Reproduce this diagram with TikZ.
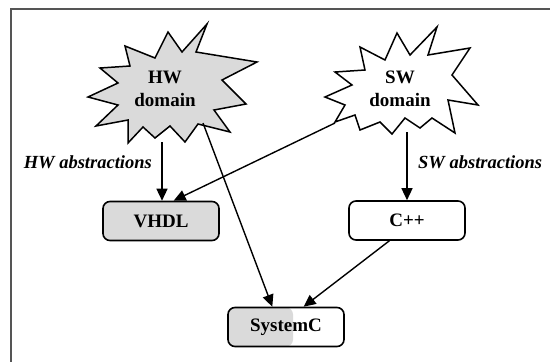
\documentclass[tikz,border=0pt]{standalone}
\usepackage{fontspec}
\setmainfont{Liberation Serif}
\usetikzlibrary{arrows.meta}
\definecolor{lgray}{HTML}{DADADA}
\definecolor{frame}{HTML}{555555}
\begin{document}
\begin{tikzpicture}[x=1pt,y=-1pt,
  burst/.style={draw=black,line width=1.5pt,line join=miter},
  lbl/.style={font=\fontsize{19}{23}\selectfont\bfseries,align=center,inner sep=0pt},
  albl/.style={font=\fontsize{18.5}{23}\selectfont\bfseries\itshape,inner sep=0pt},
  box/.style={draw=black,line width=1.6pt,rounded corners=7pt,minimum width=116pt,minimum height=39pt,inner sep=0pt,font=\fontsize{19}{23}\selectfont\bfseries},
  conn/.style={line width=1.4pt,-{Triangle[length=12pt,width=11pt]}}]
\useasboundingbox (0,0) rectangle (550,362);
\draw[frame,line width=1.6pt] (11,362) -- (11,9) -- (550,9);
% HW star
\filldraw[burst,fill=lgray] (207,24) -- (196,52) -- (257,62) -- (222,80) -- (246,104) -- (214,110) -- (230,132) -- (198,124) -- (185,142) -- (170,126) -- (155,138) -- (143,127) -- (128,143) -- (128,120) -- (96,126) -- (118,105) -- (88,97) -- (118,83) -- (100,68) -- (130,66) -- (125,46) -- (155,58) -- (168,32) -- (182,52) -- cycle;
\node[lbl] (hw) at (165,89) {HW\\domain};
% SW star
\filldraw[burst,fill=white] (437,27) -- (428,55) -- (470,48) -- (452,75) -- (478,105) -- (448,100) -- (455,133) -- (432,118) -- (420,128) -- (405,118) -- (392,134) -- (380,122) -- (360,130) -- (355,115) -- (335,122) -- (345,105) -- (325,97) -- (352,85) -- (335,72) -- (365,70) -- (360,47) -- (385,60) -- (397,33) -- (410,55) -- cycle;
\node[lbl] (sw) at (400,89) {SW\\domain};
\coordinate (hwA) at (162,142);
\coordinate (hwB) at (203,123);
\coordinate (swA) at (335,123);
\coordinate (swB) at (407,132);
% boxes
\node[box,fill=lgray] (vhdl) at (161,221) {VHDL};
\node[box,fill=white] (cpp) at (407,220.5) {C++};
\node[box,fill=white,path picture={\fill[lgray] (path picture bounding box.south west) rectangle ([xshift=65pt]path picture bounding box.north west);}] (sysc) at (286,327) {SystemC};
% labels
\node[albl,anchor=east] (hwl) at (152,162) {HW abstractions};
\node[albl,anchor=west] (swl) at (418,162) {SW abstractions};
% connectors
\draw[conn] (hwA) -- (hwA |- vhdl.north);
\draw[conn] (swA) -- (vhdl.58);
\draw[conn] (hwB) -- (sysc.124);
\draw[conn] (swB) -- (cpp.north);
\draw[conn] (cpp.229) -- (sysc.49);
\end{tikzpicture}
\end{document}
